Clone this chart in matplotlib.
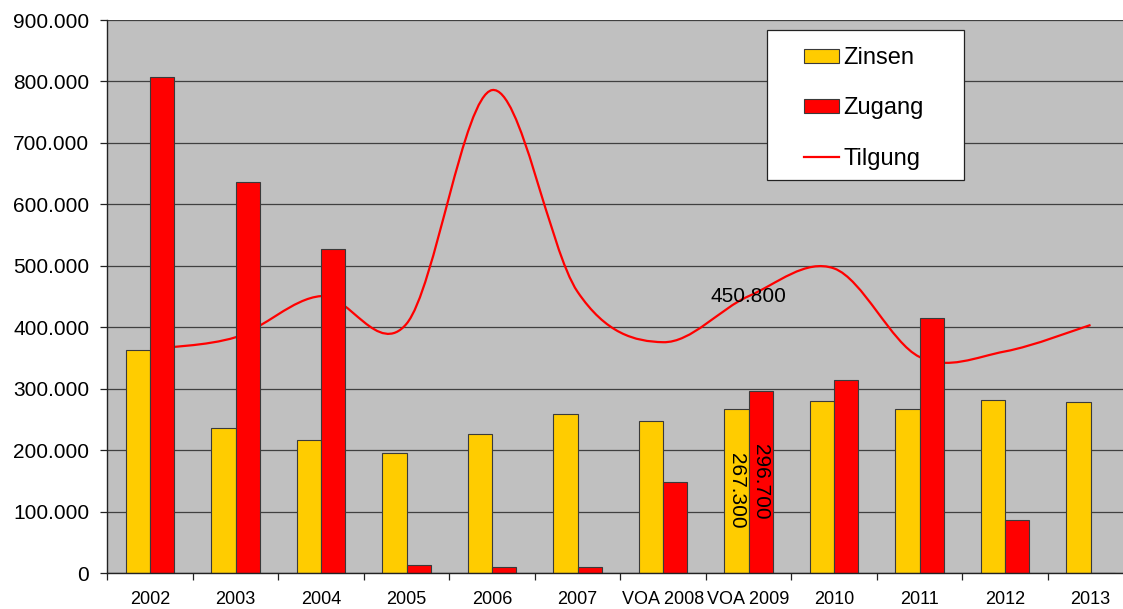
import matplotlib
matplotlib.use('Agg')
import matplotlib.pyplot as plt
import numpy as np
from matplotlib import font_manager
from matplotlib.path import Path
from matplotlib.patches import PathPatch, Rectangle
from matplotlib.lines import Line2D

# data
years = ['2002', '2003', '2004', '2005', '2006', '2007', 'VOA 2008', 'VOA 2009',
         '2010', '2011', '2012', '2013']
zinsen = [363000, 237000, 217000, 195000, 226000, 260000, 248000, 267300,
          280000, 268000, 282000, 278000]
zugang = [808000, 636000, 527000, 14000, 11000, 10000, 149000, 296700,
          314000, 415000, 87000, 0]
tilgung = [365000, 384000, 451000, 406000, 786000, 458000, 376000, 450800,
           496000, 352000, 361000, 404000]

names = {f.name for f in font_manager.fontManager.ttflist}
base_font = 'Liberation Sans' if 'Liberation Sans' in names else 'DejaVu Sans'
plt.rcParams['font.family'] = [base_font, 'DejaVu Sans']


def de_fmt(v, pos=None):
    return f'{int(round(v)):,}'.replace(',', '.')


def smooth_path(xs, ys):
    # excel-like smoothed line: catmull-rom segments as cubic beziers
    pts = np.column_stack([xs, ys]).astype(float)
    n = len(pts)
    verts = [pts[0]]
    codes = [Path.MOVETO]
    for i in range(n - 1):
        p0 = pts[max(i - 1, 0)]
        p1 = pts[i]
        p2 = pts[i + 1]
        p3 = pts[min(i + 2, n - 1)]
        c1 = p1 + (p2 - p0) / 6.0
        c2 = p2 - (p3 - p1) / 6.0
        verts += [c1, c2, p2]
        codes += [Path.CURVE4] * 3
    return Path(verts, codes)


W, H = 1123, 609
fig = plt.figure(figsize=(W / 100, H / 100), dpi=100)
fig.patch.set_facecolor('white')
ax = fig.add_axes([107.3 / W, 1 - 573.4 / H, 1026 / W, 553.4 / H])
ax.set_facecolor('#c0c0c0')

x = np.arange(len(years))
w = 0.2857
b1 = ax.bar(x - w / 2, zinsen, w, color='#ffcc00', edgecolor='#3a3a3a', linewidth=0.8,
            zorder=2, label='Zinsen')
b2 = ax.bar(x + w / 2, zugang, w, color='#ff0000', edgecolor='#3a3a3a', linewidth=0.8,
            zorder=2, label='Zugang')

ax.add_patch(PathPatch(smooth_path(x, tilgung), facecolor='none', edgecolor='#ff0000',
                       linewidth=1.6, zorder=1.5))

# data labels
i9 = years.index('VOA 2009')
ax.text(i9, tilgung[i9], de_fmt(tilgung[i9]), ha='center', va='center', fontsize=15,
        color='black', zorder=4)
ax.text(i9 - w / 2, zinsen[i9] / 2, de_fmt(zinsen[i9]), rotation=270, ha='center',
        va='center', fontsize=15, color='black', zorder=4)
ax.text(i9 + w / 2, zugang[i9] / 2, de_fmt(zugang[i9]), rotation=270, ha='center',
        va='center', fontsize=15, color='black', zorder=4)

ax.set_xlim(-0.5, len(years) - 0.5)
ax.set_ylim(0, 900000)
ax.set_yticks(np.arange(0, 900001, 100000))
ax.yaxis.set_major_formatter(plt.FuncFormatter(de_fmt))
ax.set_axisbelow(True)
ax.grid(axis='y', color='#404040', linewidth=0.9)
ax.grid(axis='x', visible=False)

ax.set_xticks(x)
ax.set_xticklabels(years, fontsize=13)
ax.set_xticks(np.arange(-0.5, len(years)), minor=True)
ax.tick_params(axis='x', which='major', length=0, pad=13)
ax.tick_params(axis='x', which='minor', length=5, width=0.9, direction='out', color='#222222')
ax.tick_params(axis='y', length=5, width=0.9, pad=8, labelsize=15, color='#222222')

for s in ['top', 'right']:
    ax.spines[s].set_visible(False)
for s in ['left', 'bottom']:
    ax.spines[s].set_color('#222222')
    ax.spines[s].set_linewidth(1.0)

# legend with a box drawn in figure pixels
fig.patches.append(Rectangle((767 / W, 1 - 180 / H), (964 - 767) / W, 150 / H,
                             transform=fig.transFigure, facecolor='white',
                             edgecolor='#222222', linewidth=0.9, zorder=5))
line_handle = Line2D([], [], color='#ff0000', linewidth=1.6)
leg = fig.legend([b1, b2, line_handle], ['Zinsen', 'Zugang', 'Tilgung'],
                 loc='upper left', bbox_to_anchor=(804 / W, 1 - 47 / H),
                 frameon=False, fontsize=17, borderpad=0, borderaxespad=0,
                 handlelength=1.5, handleheight=0.53, handletextpad=0.17,
                 labelspacing=1.2)
leg.set_zorder(6)

fig.savefig('out.png', dpi=100)
